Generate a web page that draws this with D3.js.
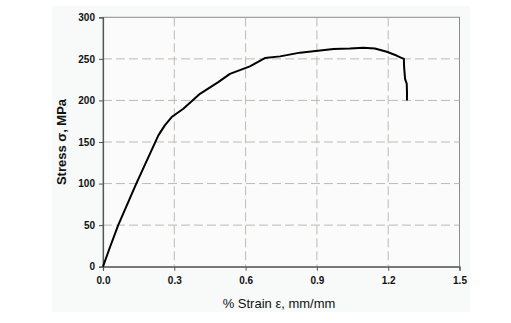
<!DOCTYPE html>
<html><head><meta charset="utf-8">
<script src="https://cdn.jsdelivr.net/npm/d3@7"></script>
<style>body{margin:0;background:#fff}svg{display:block}</style>
</head><body>
<script>
const strain = [0, 0.03, 0.064, 0.14, 0.233, 0.26, 0.289, 0.338, 0.408, 0.485, 0.534, 0.618, 0.681, 0.745, 0.829, 0.913, 0.97, 1.039, 1.095, 1.144, 1.194, 1.235, 1.258, 1.266, 1.267, 1.271, 1.278, 1.279, 1.279];
const stress = [0, 24, 50, 100, 158, 170, 180, 190, 208, 222, 232, 241, 251, 253, 257.5, 260, 262, 262.4, 263.4, 262.4, 258.5, 254, 251, 250, 240, 226, 220, 210, 200];
const xTicks = [0, 0.3, 0.6, 0.9, 1.2, 1.5];
const yTicks = [0, 50, 100, 150, 200, 250, 300];
const xTitle = "% Strain \u03b5, mm/mm";
const yTitle = "Stress \u03c3, MPa";

const W = 511, H = 323;
const svg = d3.select("body").append("svg").attr("width", W).attr("height", H);
svg.append("rect").attr("x", 52).attr("y", 6).attr("width", 418).attr("height", 306).attr("fill", "#f8f9f9");
const m = {l: 103, r: 459.5, t: 17.3, b: 266.7};
const x = d3.scaleLinear().domain([0, 1.5]).range([m.l, m.r]);
const y = d3.scaleLinear().domain([0, 300]).range([m.b, m.t]);

svg.append("rect").attr("x", m.l).attr("y", m.t).attr("width", m.r - m.l).attr("height", m.b - m.t)
  .attr("fill", "#fbfbfb").attr("stroke", "#8a8a8a").attr("stroke-width", 1);

const g = svg.append("g");
g.selectAll(".gx").data(xTicks.filter(d => d > 0 && d < 1.5)).join("line")
  .attr("x1", d => x(d)).attr("x2", d => x(d)).attr("y1", m.t).attr("y2", m.b)
  .attr("stroke", "#bdbab6").attr("stroke-dasharray", "9,4");
g.selectAll(".gy").data(yTicks.filter(d => d > 0 && d < 300)).join("line")
  .attr("y1", d => y(d)).attr("y2", d => y(d)).attr("x1", m.l).attr("x2", m.r)
  .attr("stroke", "#bdbab6").attr("stroke-dasharray", "9,4");

const ax = svg.append("g").attr("transform", `translate(0,${m.b})`)
  .call(d3.axisBottom(x).tickValues(xTicks).tickFormat(d3.format(".1f")).tickSizeOuter(0).tickSize(4).tickPadding(6));
const ay = svg.append("g").attr("transform", `translate(${m.l},0)`)
  .call(d3.axisLeft(y).tickValues(yTicks).tickSizeOuter(0).tickSize(4).tickPadding(4));
[ax, ay].forEach(a => {
  a.select(".domain").attr("stroke", "#555").attr("stroke-width", 1.2);
  a.selectAll(".tick line").attr("stroke", "#555");
  a.selectAll("text").attr("font-family", "Liberation Sans, Arial, sans-serif")
    .attr("font-size", 10).attr("font-weight", "bold").attr("fill", "#111");
});

const line = d3.line().x((d, i) => x(strain[i])).y((d, i) => y(stress[i])).curve(d3.curveLinear);
svg.append("path").datum(stress).attr("d", line).attr("fill", "none")
  .attr("stroke", "#000").attr("stroke-width", 2).attr("stroke-linejoin", "round");

svg.append("text").attr("x", 279).attr("y", 308).attr("text-anchor", "middle")
  .attr("font-family", "Liberation Sans, Arial, sans-serif").attr("font-size", 13).attr("fill", "#111").text(xTitle);
svg.append("text").attr("transform", `translate(66,${(m.t + m.b) / 2}) rotate(-90)`).attr("text-anchor", "middle")
  .attr("font-family", "Liberation Sans, Arial, sans-serif").attr("font-size", 13).attr("font-weight", "bold").attr("fill", "#111").text(yTitle);
</script>
</body></html>
